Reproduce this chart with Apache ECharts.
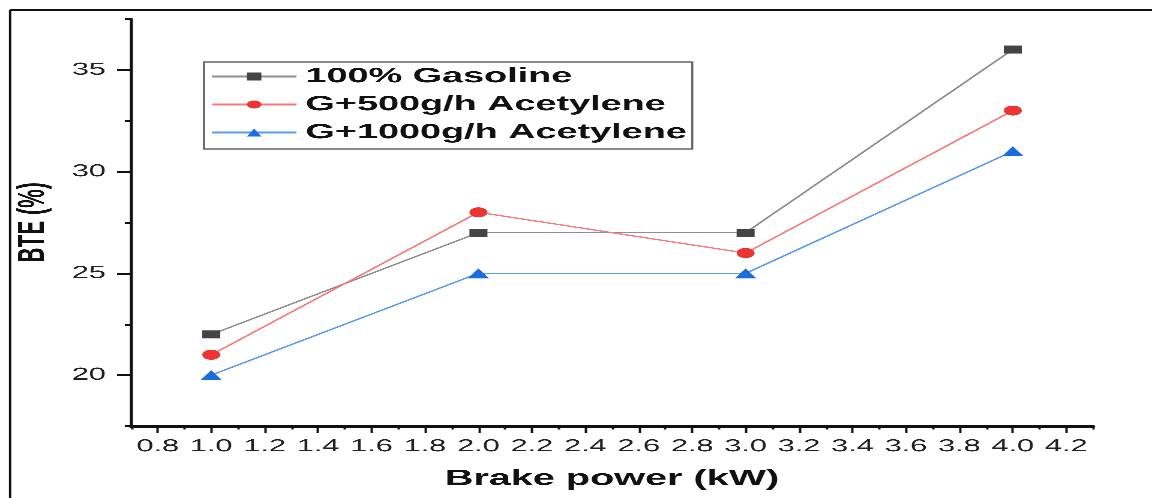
<!DOCTYPE html>
<html>
<head>
<meta charset="utf-8">
<script src="https://cdn.jsdelivr.net/npm/echarts@6/dist/echarts.min.js"></script>
<style>
html,body{margin:0;padding:0;background:#fff;overflow:hidden;width:1152px;height:498px;}
#c{width:640px;height:498px;transform:scaleX(1.8);transform-origin:0 0;}
</style>
</head>
<body>
<div id="c"></div>
<script>
// Data
const power = [1.0, 2.0, 3.0, 4.0];
const gasoline = [22, 27, 27, 36];
const acet500 = [21, 28, 26, 33];
const acet1000 = [20, 25, 25, 31];
const seriesNames = ['100% Gasoline', 'G+500g/h Acetylene', 'G+1000g/h Acetylene'];
const xMajorTicks = [0.8, 1.0, 1.2, 1.4, 1.6, 1.8, 2.0, 2.2, 2.4, 2.6, 2.8, 3.0, 3.2, 3.4, 3.6, 3.8, 4.0, 4.2];
const xMinorTicks = [0.7, 0.9, 1.1, 1.3, 1.5, 1.7, 1.9, 2.1, 2.3, 2.5, 2.7, 2.9, 3.1, 3.3, 3.5, 3.7, 3.9, 4.1, 4.3];
const yMajorTicks = [20, 25, 30, 35];
const yMinorTicks = [17.5, 22.5, 27.5, 32.5, 37.5];
const xName = 'Brake power (kW)';
const yName = 'BTE (%)';

const chart = echarts.init(document.getElementById('c'), null, {devicePixelRatio: 3});
const font = 'Liberation Sans, Arial, sans-serif';
const pairs = arr => power.map((p, i) => [p, arr[i]]);

const baseX = {type: 'value', min: 0.7, max: 4.3, position: 'bottom', splitLine: {show: false}};
const baseY = {type: 'value', min: 17.5, max: 37.5, position: 'left', splitLine: {show: false}};

chart.setOption({
  animation: false,
  backgroundColor: '#fff',
  grid: {left: 72, right: 32.8, top: 19, bottom: 72, containLabel: false},
  legend: {
    orient: 'vertical', left: 113.3, top: 62,
    padding: [4, 3, 6, 3.4],
    itemGap: 7, itemWidth: 47, itemHeight: 10,
    borderColor: '#666', borderWidth: 1.2,
    textStyle: {fontFamily: font, fontSize: 21, fontWeight: 'bold', color: '#111', lineHeight: 20},
    data: seriesNames
  },
  xAxis: [
    Object.assign({}, baseX, {
      name: xName, nameLocation: 'middle', nameGap: 42,
      nameTextStyle: {fontFamily: font, fontSize: 22, fontWeight: 'bold', color: '#111'},
      axisLine: {show: true, lineStyle: {color: '#111', width: 2.5}},
      axisTick: {show: true, inside: false, length: 7, customValues: xMajorTicks, lineStyle: {color: '#111', width: 1.3}},
      axisLabel: {show: true, margin: 12, customValues: xMajorTicks, formatter: v => Number(v).toFixed(1),
        fontFamily: font, fontSize: 17, color: '#222'}
    }),
    Object.assign({}, baseX, {
      axisLine: {show: false},
      axisTick: {show: true, inside: false, length: 3.5, customValues: xMinorTicks, lineStyle: {color: '#111', width: 1.3}},
      axisLabel: {show: false}
    })
  ],
  yAxis: [
    Object.assign({}, baseY, {
      name: yName, nameLocation: 'middle', nameGap: 40, nameRotate: 90,
      nameTextStyle: {fontFamily: font, fontSize: 21, fontWeight: 'bold', color: '#111'},
      axisLine: {show: true, lineStyle: {color: '#111', width: 1.7}},
      axisTick: {show: true, inside: false, length: 7.8, customValues: yMajorTicks, lineStyle: {color: '#111', width: 2}},
      axisLabel: {show: true, margin: 14, customValues: yMajorTicks, formatter: v => String(v),
        fontFamily: font, fontSize: 17, color: '#222'}
    }),
    Object.assign({}, baseY, {
      axisLine: {show: false},
      axisTick: {show: true, inside: false, length: 3.5, customValues: yMinorTicks, lineStyle: {color: '#111', width: 2}},
      axisLabel: {show: false}
    })
  ],
  graphic: [
    {type: 'line', shape: {x1: 5.6, y1: 10, x2: 700, y2: 10}, style: {stroke: '#111', lineWidth: 2}, silent: true},
    {type: 'line', shape: {x1: 5.6, y1: 10, x2: 5.6, y2: 600}, style: {stroke: '#111', lineWidth: 1.3}, silent: true}
  ],
  series: [
    {name: seriesNames[0], type: 'line', data: pairs(gasoline), symbol: 'rect', symbolSize: [10, 8],
      lineStyle: {color: '#8f8f8f', width: 1.3}, itemStyle: {color: '#444'}, z: 3},
    {name: seriesNames[1], type: 'line', data: pairs(acet500), symbol: 'circle', symbolSize: [10, 10],
      lineStyle: {color: '#f77b7b', width: 1.3}, itemStyle: {color: '#ee3333'}, z: 3},
    {name: seriesNames[2], type: 'line', data: pairs(acet1000), symbol: 'triangle', symbolSize: [12, 10],
      lineStyle: {color: '#5b9cec', width: 1.3}, itemStyle: {color: '#1a6de0'}, z: 3}
  ]
});
</script>
</body>
</html>
